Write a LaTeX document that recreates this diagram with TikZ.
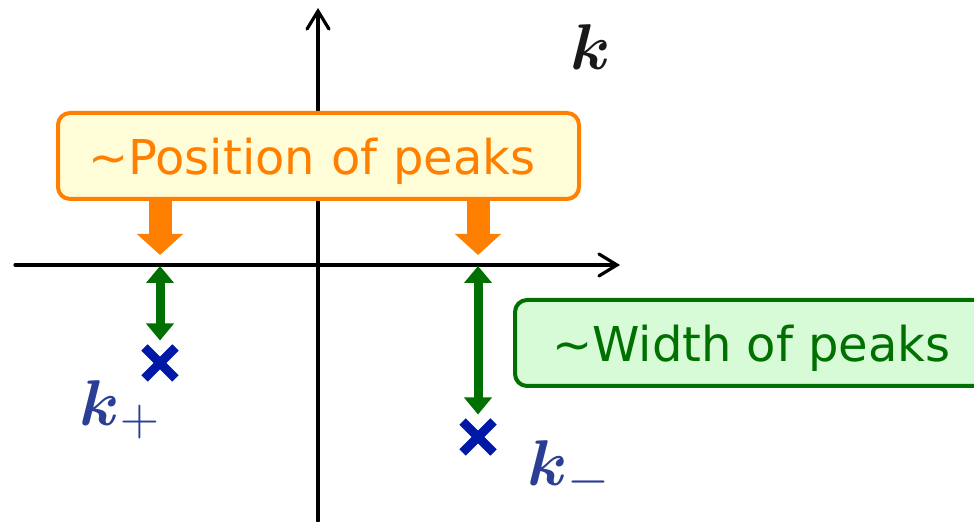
\documentclass[tikz,border=0pt]{standalone}
\usepackage{amsmath,amssymb}
\usepackage{fontspec}
\setmainfont{DejaVu Sans}
\usepackage{xcolor}
\usetikzlibrary{arrows.meta,positioning,shapes.misc}

\definecolor{posorange}{HTML}{FF8000}
\definecolor{posfill}{HTML}{FFFCD8}
\definecolor{widgreen}{HTML}{007000}
\definecolor{widfill}{HTML}{D6FBD6}
\definecolor{poleblue}{HTML}{0018A8}
\definecolor{labblue}{HTML}{2B3E96}

\begin{document}
\begin{tikzpicture}[x=0.5pt,y=-0.5pt,
  axis/.style={line width=1.6pt,line cap=round,-{Straight Barb[length=9pt,width=11pt,line cap=round]}},
  posbox/.style={draw=posorange,fill=posfill,line width=2pt,rounded corners=6pt,
    text=posorange,anchor=west,inner xsep=15pt,inner ysep=0pt,minimum height=43pt,
    text height=24pt,text depth=5pt,font=\fontsize{24}{28}\selectfont},
  widbox/.style={posbox,draw=widgreen,fill=widfill,text=widgreen,inner xsep=18.5pt},
  posarrow/.style={posorange,line width=11.5pt,-{Triangle[length=10.5pt,width=22.5pt]}},
  widarrow/.style={widgreen,line width=4.5pt,{Triangle[length=8.5pt,width=13.5pt]}-{Triangle[length=8.5pt,width=13.5pt]}},
  polecross/.style={cross out,draw=poleblue,line width=4.5pt,minimum size=11pt,inner sep=0pt},
  klabel/.style={text=labblue,font=\Huge,scale=1.3}]
\useasboundingbox (0,0) rectangle (974,522);
\clip (0,0) rectangle (974,522);
% ---------- axes ----------
\coordinate (xl) at (15,265);
\coordinate (xr) at (620,265);
\coordinate (yb) at (318,521);
\coordinate (yt) at (318,8);
\draw[axis] (xl) -- (xr);
\draw[axis] (yb) -- (yt);
\node[klabel,text=black!90] (klab) at (591,47) {$\boldsymbol{k}$};
% ---------- boxes ----------
\node[posbox,text width=230.5pt,align=left] (pos) at (56,156) {∼Position of peaks};
\node[widbox] (wid) at (513,343) {∼Width of peaks};
% ---------- peaks ----------
\coordinate (lp) at (160,255);
\coordinate (rp) at (478,255);
\coordinate (lax) at (160,266);
\coordinate (rax) at (478,266);
\draw[posarrow] (pos.south -| lp) -- (lp);
\draw[posarrow] (pos.south -| rp) -- (rp);
\node[polecross] (kp) at (160,363) {};
\node[polecross] (km) at (478,437) {};
\draw[widarrow,shorten >=3.5pt] (lax) -- (kp.north);
\draw[widarrow,shorten >=3.5pt] (rax) -- (km.north);
\node[klabel] (kplab) at (120,410) {$\boldsymbol{k}_+$};
\node[klabel] (kmlab) at (569,470) {$\boldsymbol{k}_-$};
\end{tikzpicture}
\end{document}
